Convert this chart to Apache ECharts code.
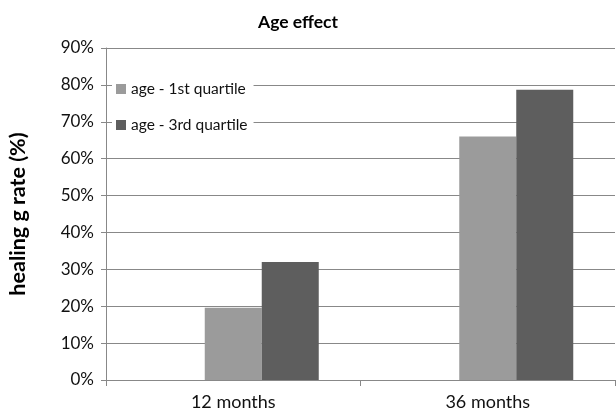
<!DOCTYPE html>
<html><head><meta charset="utf-8">
<script src="https://cdn.jsdelivr.net/npm/echarts@6/dist/echarts.min.js"></script>
<style>html,body{margin:0;padding:0;background:#fff}#c{width:616px;height:416px}</style>
</head><body><div id="c"></div>
<script>
const categories = ['12 months', '36 months'];
const seriesNames = ['age - 1st quartile', 'age - 3rd quartile'];
const emptySlot = [null, null];
const firstQuartile = [0.196, 0.66];
const thirdQuartile = [0.32, 0.787];
const yTicks = [0, 0.1, 0.2, 0.3, 0.4, 0.5, 0.6, 0.7, 0.8, 0.9];

const font = 'Lato, "Open Sans", sans-serif';
const chart = echarts.init(document.getElementById('c'), null, {renderer: 'canvas'});
chart.setOption({
  animation: false,
  backgroundColor: '#fff',
  textStyle: {fontFamily: font},
  title: {
    text: 'Age effect', left: 293, top: 8, textAlign: 'center',
    textStyle: {fontFamily: font, fontSize: 17.5, fontWeight: 'bold', color: '#000'}
  },
  grid: {left: 106, right: 1, top: 48, bottom: 36, containLabel: false, outerBoundsMode: 'none'},
  legend: {
    orient: 'vertical', left: 112, top: 78,
    backgroundColor: '#fff', padding: [3, 6, 3, 4],
    itemWidth: 10, itemHeight: 10, itemGap: 20,
    icon: 'rect',
    textStyle: {fontFamily: font, fontSize: 15.5, color: '#111'},
    data: seriesNames
  },
  xAxis: {
    type: 'category', data: categories,
    axisLine: {lineStyle: {color: '#888', width: 1}},
    axisTick: {show: true, alignWithLabel: false, length: 6, lineStyle: {color: '#888'}},
    axisLabel: {fontFamily: font, fontSize: 18, color: '#111', margin: 13},
    splitLine: {show: false}
  },
  yAxis: {
    type: 'value', min: 0, max: 0.9, interval: 0.1,
    name: 'healing g rate (%)', nameLocation: 'middle', nameGap: 77, nameRotate: 90,
    nameTextStyle: {fontFamily: font, fontSize: 21.5, fontWeight: 'bold', color: '#000'},
    axisLine: {show: true, lineStyle: {color: '#888', width: 1}},
    axisTick: {show: true, length: 5, lineStyle: {color: '#888'}},
    axisLabel: {
      fontFamily: font, fontSize: 17, color: '#111', margin: 12,
      formatter: v => Math.round(v * 100) + '%'
    },
    splitLine: {show: true, lineStyle: {color: '#888', width: 1}}
  },
  series: [
    {name: 'empty', type: 'bar', data: emptySlot, barWidth: 57, barGap: '0%'},
    {name: seriesNames[0], type: 'bar', data: firstQuartile, barWidth: 57, barGap: '0%',
     itemStyle: {color: '#9b9b9b'}},
    {name: seriesNames[1], type: 'bar', data: thirdQuartile, barWidth: 57, barGap: '0%',
     itemStyle: {color: '#5e5e5e'}}
  ]
});
</script></body></html>
